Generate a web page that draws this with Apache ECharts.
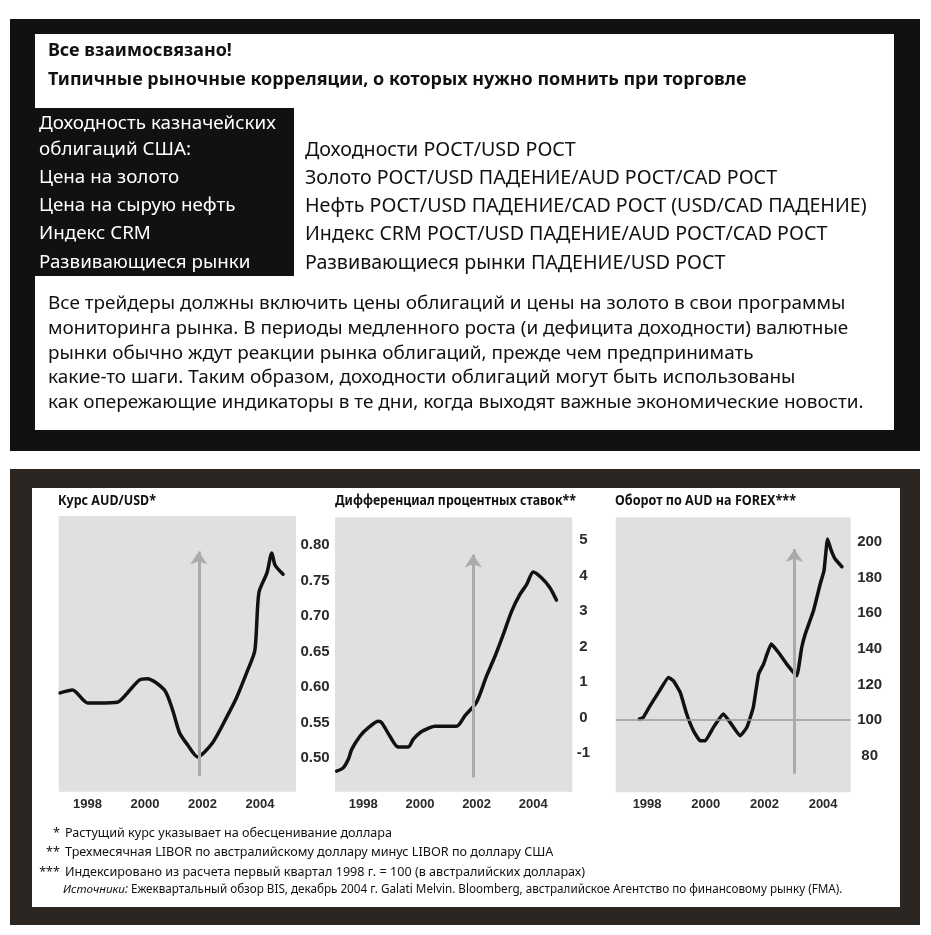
<!DOCTYPE html>
<html>
<head>
<meta charset="utf-8">
<title>Все взаимосвязано</title>
<script src="https://cdn.jsdelivr.net/npm/echarts@6/dist/echarts.min.js"></script>
<style>
  html, body { margin: 0; padding: 0; background: #fff; }
  #chart { width: 931px; height: 935px; }
</style>
</head>
<body>
<div id="chart"></div>
<script>
// курс AUD/USD
const audYears = [1997.05, 1997.48, 1998.0, 1998.41, 1999.04, 1999.39, 1999.8, 2000.08, 2000.68, 2000.96, 2001.2, 2001.48, 2001.83, 2002.35, 2002.84, 2003.19, 2003.57, 2003.82, 2003.96, 2004.24, 2004.41, 2004.52, 2004.8];
const audRate = [0.592, 0.596, 0.578, 0.578, 0.579, 0.592, 0.61, 0.612, 0.596, 0.568, 0.536, 0.519, 0.502, 0.522, 0.558, 0.586, 0.624, 0.652, 0.733, 0.761, 0.789, 0.772, 0.759];

// дифференциал процентных ставок
const diffYears = [1997.06, 1997.29, 1997.47, 1997.59, 1997.88, 1998.18, 1998.53, 1998.65, 1998.94, 1999.23, 1999.59, 1999.76, 2000.0, 2000.35, 2000.53, 2001.29, 2001.59, 2002.0, 2002.35, 2002.65, 2002.94, 2003.24, 2003.53, 2003.77, 2004.0, 2004.29, 2004.59, 2004.82];
const diffRate = [-1.5, -1.41, -1.17, -0.89, -0.52, -0.28, -0.1, -0.14, -0.52, -0.82, -0.82, -0.61, -0.42, -0.28, -0.24, -0.24, 0.06, 0.44, 1.17, 1.73, 2.34, 3.0, 3.47, 3.75, 4.1, 3.94, 3.66, 3.31];

// оборот по AUD (1 кв. 1998 = 100)
const turnYears = [1997.74, 1997.87, 1998.1, 1998.39, 1998.73, 1998.9, 1999.13, 1999.35, 1999.58, 1999.81, 1999.98, 2000.26, 2000.6, 2000.83, 2001.17, 2001.4, 2001.62, 2001.8, 2001.97, 2002.23, 2002.48, 2002.76, 2003.1, 2003.27, 2003.39, 2003.67, 2003.9, 2004.03, 2004.15, 2004.26, 2004.41, 2004.64];
const turnIndex = [100.6, 101.5, 108, 115.5, 123.9, 122, 115.5, 103.4, 94, 88.4, 88.4, 95.9, 103.4, 98.7, 91.2, 95.9, 107.1, 125.8, 131.4, 142.6, 137.9, 131.4, 124.8, 140.7, 148.2, 161.3, 176.3, 183.7, 201.5, 195.9, 190.3, 186];

// подписи осей
const yearTicks = [1998, 2000, 2002, 2004];
const audTicks = [0.50, 0.55, 0.60, 0.65, 0.70, 0.75, 0.80];
const diffTicks = [-1, 0, 1, 2, 3, 4, 5];
const turnTicks = [80, 100, 120, 140, 160, 180, 200];

// стрелки (год, от, до) и базовый уровень
const arrowYears = [2001.87, 2001.88, 2003.02];
const arrowFrom = [0.475, -1.68, 69.9];
const arrowTo = [0.791, 4.59, 195.9];
const baseLevel = 100;

// тексты
const headTitle = 'Все взаимосвязано!';
const headSubtitle = 'Типичные рыночные корреляции, о которых нужно помнить при торговле';
const factorNames = ['Доходность казначейских', 'облигаций США:', 'Цена на золото', 'Цена на сырую нефть', 'Индекс CRM', 'Развивающиеся рынки'];
const factorEffects = [
  'Доходности РОСТ/USD РОСТ',
  'Золото РОСТ/USD ПАДЕНИЕ/AUD РОСТ/CAD РОСТ',
  'Нефть РОСТ/USD ПАДЕНИЕ/CAD РОСТ (USD/CAD ПАДЕНИЕ)',
  'Индекс CRM РОСТ/USD ПАДЕНИЕ/AUD РОСТ/CAD РОСТ',
  'Развивающиеся рынки ПАДЕНИЕ/USD РОСТ'
];
const noteLines = [
  'Все трейдеры должны включить цены облигаций и цены на золото в свои программы',
  'мониторинга рынка. В периоды медленного роста (и дефицита доходности) валютные',
  'рынки обычно ждут реакции рынка облигаций, прежде чем предпринимать',
  'какие-то шаги. Таким образом, доходности облигаций могут быть использованы',
  'как опережающие индикаторы в те дни, когда выходят важные экономические новости.'
];
const chartTitles = ['Курс AUD/USD*', 'Дифференциал процентных ставок**', 'Оборот по AUD на FOREX***'];
const footMarks = ['*', '**', '***'];
const footnotes = [
  'Растущий курс указывает на обесценивание доллара',
  'Трехмесячная LIBOR по австралийскому доллару минус LIBOR по доллару США',
  'Индексировано из расчета первый квартал 1998 г. = 100 (в австралийских долларах)'
];
const sourceLabel = 'Источники:';
const sourceText = ' Ежеквартальный обзор BIS, декабрь 2004 г. Galati Melvin. Bloomberg, австралийское Агентство по финансовому рынку (FMA).';

const TEXT_FONT = '"Noto Sans", "DejaVu Sans", sans-serif';
const AXIS_FONT = '"Liberation Sans", Arial, sans-serif';

// подгонка размера шрифта под ширину строки
const measureCtx = document.createElement('canvas').getContext('2d');
function fontStr(size, weight, style, family) {
  return (style || 'normal') + ' ' + (weight || 'normal') + ' ' + size.toFixed(2) + 'px ' + (family || TEXT_FONT);
}
function textWidth(text, font) {
  measureCtx.font = font;
  return measureCtx.measureText(text).width;
}
function fitSize(text, width, weight, style, family) {
  return 100 * width / textWidth(text, fontStr(100, weight, style, family));
}

function label(text, x, y, font, fill, align, scaleX) {
  return {
    type: 'text', x: x, y: y, z: 5, silent: true, scaleX: scaleX || 1,
    style: { text: text, font: font, fill: fill || '#111', align: align || 'left', verticalAlign: 'middle' }
  };
}
function box(x, y, w, h, fill) {
  return { type: 'rect', z: -10, silent: true, shape: { x: x, y: y, width: w, height: h }, style: { fill: fill } };
}

const titleSize = fitSize(headSubtitle, 699, 'bold');
const nameSize = fitSize(factorNames[0], 237);
const effectSize = fitSize(factorEffects[2], 562);
const noteSize = fitSize(noteLines[4], 816);
const footSize = fitSize(footnotes[0], 327);
const srcSize = 100 * 780 / (textWidth(sourceLabel, fontStr(100, 'normal', 'italic')) + textWidth(sourceText, fontStr(100)));
const chartTitleWidths = [98, 241, 181];
const chartTitleX = [58, 335, 615];

const graphics = [
  box(10, 19, 910, 432, '#111'),
  box(35, 34, 859, 396, '#fff'),
  box(10, 108, 284, 168, '#111'),
  box(10, 469, 910, 456, '#2c2622'),
  box(32, 488, 868, 419, '#fff'),
  label(headTitle, 48, 51, fontStr(titleSize, 'bold')),
  label(headSubtitle, 48, 80, fontStr(titleSize, 'bold'))
];
const nameY = [124, 150, 178, 206, 234, 263];
factorNames.forEach((t, i) => graphics.push(label(t, 39, nameY[i], fontStr(nameSize), '#fff')));
factorEffects.forEach((t, i) => graphics.push(label(t, 305, nameY[i + 1], fontStr(effectSize), '#111')));
const noteY = [304, 329, 354, 378, 403];
noteLines.forEach((t, i) => graphics.push(label(t, 48, noteY[i], fontStr(noteSize), '#111')));
// заголовки графиков: узкий жирный шрифт
chartTitles.forEach((t, i) => {
  const f = fontStr(14, 'bold');
  graphics.push(label(t, chartTitleX[i], 501, f, '#111', 'left', chartTitleWidths[i] / textWidth(t, f)));
});
const footY = [833, 852, 872];
footnotes.forEach((t, i) => {
  graphics.push(label(footMarks[i], 60, footY[i], fontStr(footSize), '#111', 'right'));
  graphics.push(label(t, 65, footY[i], fontStr(footSize), '#111'));
});
const srcLabelW = textWidth(sourceLabel, fontStr(srcSize, 'normal', 'italic'));
graphics.push(label(sourceLabel, 63, 890, fontStr(srcSize, 'normal', 'italic'), '#111'));
graphics.push(label(sourceText, 63 + srcLabelW, 890, fontStr(srcSize), '#111'));

// три графика
const grids = [
  { left: 58.7, top: 516, width: 237.3, height: 275.7 },
  { left: 335, top: 517.3, width: 237.3, height: 274.4 },
  { left: 615.7, top: 517.3, width: 235, height: 275 }
];
const xRange = [[1997.0, 2005.25], [1997.0, 2005.38], [1996.93, 2004.94]];
const yRange = [[0.453, 0.841], [-2.08, 5.64], [59.5, 213.7]];
const yTicks = [audTicks, diffTicks, turnTicks];
const yMargin = [19, 11, 19];
const yFormat = [v => v.toFixed(2), v => String(v), v => String(v)];
const lines = [[audYears, audRate], [diffYears, diffRate], [turnYears, turnIndex]];
const smoothness = [0.25, 0.25, 0.12];

const option = {
  animation: false,
  backgroundColor: '#fff',
  graphic: graphics,
  grid: grids.map(g => Object.assign({ show: true, backgroundColor: '#e0e0e0', borderWidth: 0 }, g)),
  xAxis: grids.map((g, i) => ({
    type: 'value', gridIndex: i, min: xRange[i][0], max: xRange[i][1],
    axisLine: { show: false }, axisTick: { show: false }, splitLine: { show: false },
    axisLabel: {
      customValues: yearTicks, margin: 6, color: '#2a2a2a',
      fontFamily: AXIS_FONT, fontWeight: 'bold', fontSize: 13, formatter: v => String(v)
    }
  })),
  yAxis: grids.map((g, i) => ({
    type: 'value', gridIndex: i, position: 'right', min: yRange[i][0], max: yRange[i][1],
    axisLine: { show: false }, axisTick: { show: false }, splitLine: { show: false },
    axisLabel: {
      customValues: yTicks[i], margin: yMargin[i], align: 'center', color: '#2a2a2a',
      fontFamily: AXIS_FONT, fontWeight: 'bold', fontSize: 15, formatter: yFormat[i]
    }
  })),
  series: []
};

// линия 100 на третьем графике
option.series.push({
  type: 'line', xAxisIndex: 2, yAxisIndex: 2, data: [], z: 1, silent: true,
  markLine: {
    silent: true, animation: false, symbol: ['none', 'none'],
    label: { show: false },
    lineStyle: { color: '#9a9a9a', width: 1.5, type: 'solid' },
    data: [{ yAxis: baseLevel }]
  }
});
// стрелки - под кривыми
grids.forEach((g, i) => {
  option.series.push({
    type: 'line', xAxisIndex: i, yAxisIndex: i, data: [], z: 2, silent: true,
    markLine: {
      silent: true, animation: false, symbol: ['none', 'arrow'], symbolSize: 13,
      label: { show: false },
      lineStyle: { color: '#ababab', width: 3, type: 'solid' },
      data: [[
        { coord: [arrowYears[i], arrowFrom[i]] },
        { coord: [arrowYears[i], arrowTo[i]] }
      ]]
    }
  });
});
lines.forEach((l, i) => {
  option.series.push({
    type: 'line', xAxisIndex: i, yAxisIndex: i, z: 3, silent: true,
    showSymbol: false, smooth: smoothness[i],
    lineStyle: { color: '#111', width: 3.5, cap: 'round', join: 'round' },
    data: l[0].map((x, k) => [x, l[1][k]])
  });
});

const chart = echarts.init(document.getElementById('chart'), null, { renderer: 'canvas' });
chart.setOption(option);
</script>
</body>
</html>
